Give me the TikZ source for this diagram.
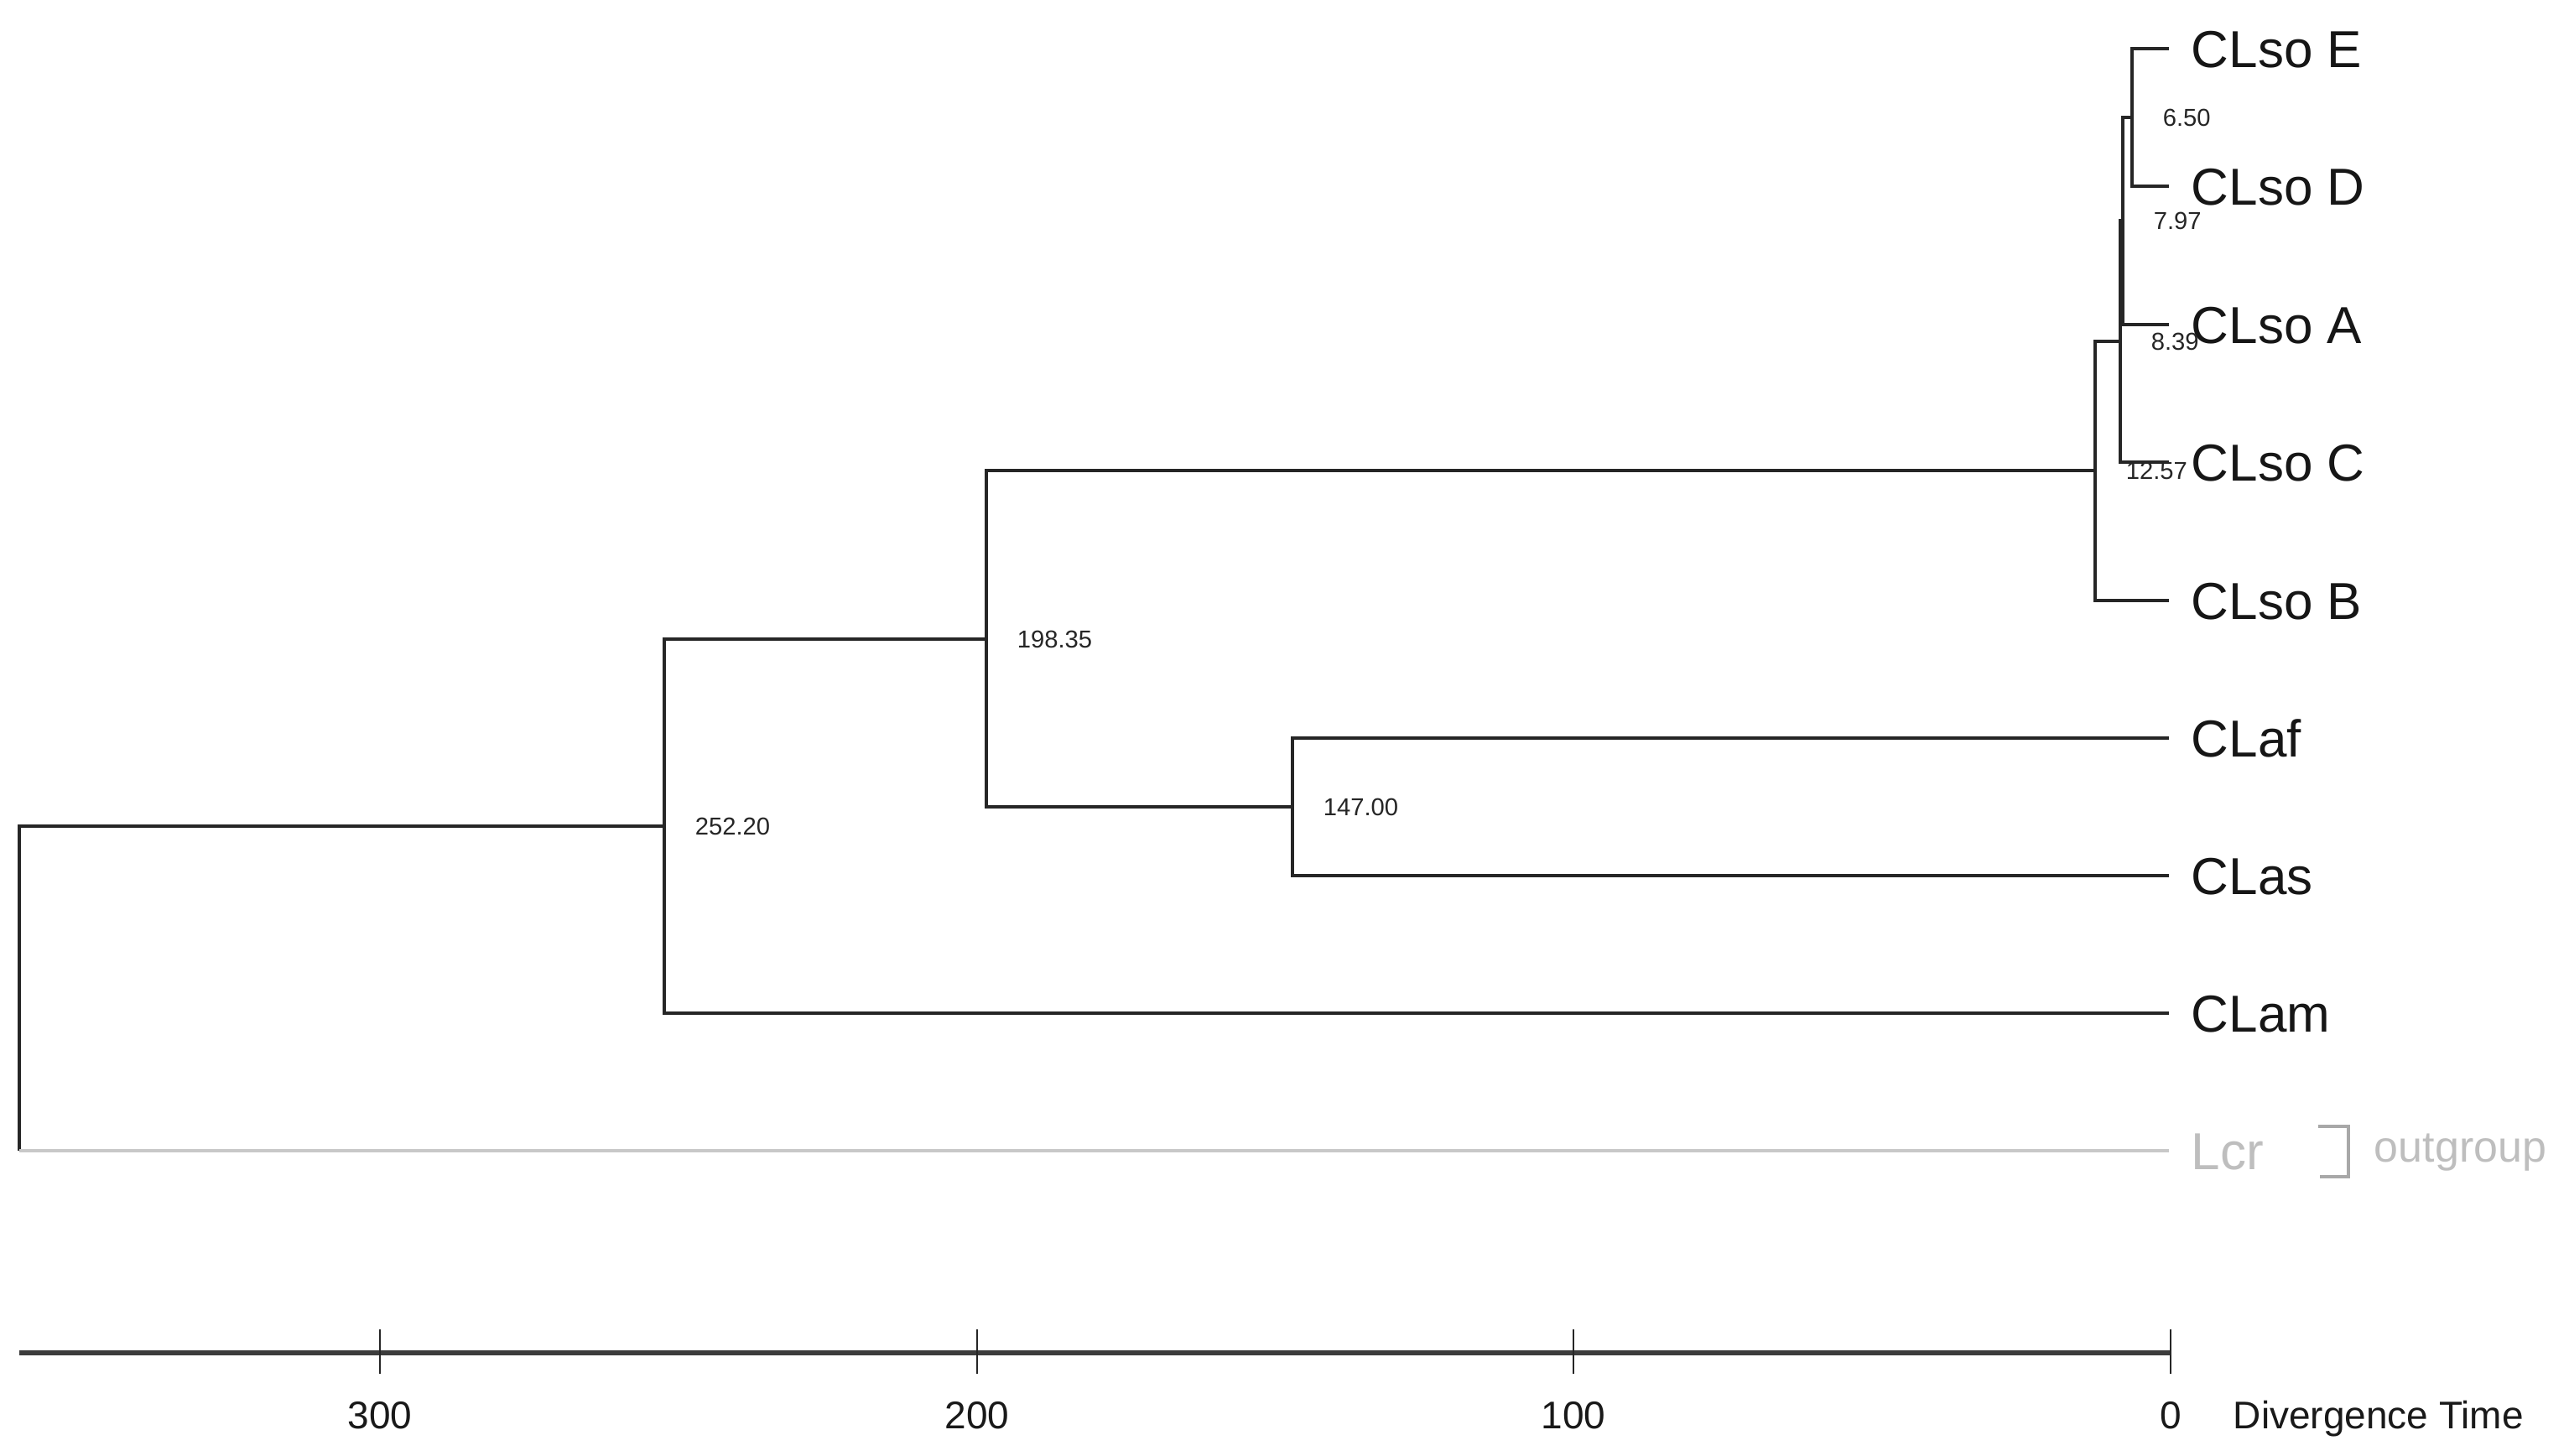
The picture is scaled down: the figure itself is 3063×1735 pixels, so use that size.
\documentclass[tikz,border=0pt]{standalone}
\usepackage{fontspec}
\setmainfont{Liberation Sans}
\definecolor{treeline}{HTML}{262626}
\definecolor{leaftext}{HTML}{161616}
\definecolor{outline}{HTML}{C8C8C8}
\definecolor{outtext}{HTML}{BEBEBE}
\definecolor{brackcol}{HTML}{A8A8A8}
\definecolor{axiscol}{HTML}{3C3C3C}
\begin{document}
\begin{tikzpicture}[x=0.25pt,y=-0.25pt,
  branch/.style={draw=treeline,line width=1pt},
  outbranch/.style={draw=outline,line width=1pt},
  leaflabel/.style={anchor=west,inner sep=0pt,text height=11.1pt,text depth=0pt,
    font=\fontsize{15.5}{18}\selectfont,text=leaftext},
  outleaf/.style={leaflabel,text=outtext},
  nodelabel/.style={anchor=west,inner sep=0pt,text height=5.2pt,text depth=0pt,
    font=\fontsize{7.3}{9}\selectfont,text=black!85},
  axislabel/.style={inner sep=0pt,text height=8.2pt,text depth=0pt,
    font=\fontsize{11.5}{14}\selectfont,text=black!90},
  axisline/.style={draw=axiscol,line width=1.4pt},
  tickline/.style={draw=black!85,line width=0.55pt},
  bracketline/.style={draw=brackcol,line width=0.8pt}]
\useasboundingbox (0,0) rectangle (3063,1735);
% leaf tips
\coordinate (E) at (2586,58);
\coordinate (D) at (2586,222);
\coordinate (A) at (2586,387);
\coordinate (C) at (2586,551);
\coordinate (B) at (2586,716);
\coordinate (af) at (2586,880);
\coordinate (as) at (2586,1044);
\coordinate (am) at (2586,1208);
\coordinate (Lcr) at (2586,1372);
% internal nodes
\coordinate (n650) at (2542,140);
\coordinate (n797) at (2531,263);
\coordinate (n839) at (2528,407);
\coordinate (n1257) at (2498,561);
\coordinate (n147) at (1541,962);
\coordinate (n19835) at (1176,762);
\coordinate (n2522) at (792,985);
\coordinate (root) at (23,1178);
% branches
\draw[branch] (n650) |- (E);
\draw[branch] (n650) |- (D);
\draw[branch] (n797) |- (n650);
\draw[branch] (n797) |- (A);
\draw[branch] (n839) |- (n797);
\draw[branch] (n839) |- (C);
\draw[branch] (n1257) |- (n839);
\draw[branch] (n1257) |- (B);
\draw[branch] (n147) |- (af);
\draw[branch] (n147) |- (as);
\draw[branch] (n19835) |- (n1257);
\draw[branch] (n19835) |- (n147);
\draw[branch] (n2522) |- (n19835);
\draw[branch] (n2522) |- (am);
\draw[branch] (root) |- (n2522);
\coordinate (rootlow) at (root |- Lcr);
\draw[branch] (root) -- (rootlow);
\draw[outbranch] (rootlow) -- (Lcr);
% leaf labels
\node[leaflabel] (lE) at ([xshift=6.5pt]E) {CLso E};
\node[leaflabel] (lD) at ([xshift=6.5pt]D) {CLso D};
\node[leaflabel] (lA) at ([xshift=6.5pt]A) {CLso A};
\node[leaflabel] (lC) at ([xshift=6.5pt]C) {CLso C};
\node[leaflabel] (lB) at ([xshift=6.5pt]B) {CLso B};
\node[leaflabel] (laf) at ([xshift=6.5pt]af) {CLaf};
\node[leaflabel] (las) at ([xshift=6.5pt]as) {CLas};
\node[leaflabel] (lam) at ([xshift=6.5pt]am) {CLam};
\node[outleaf] (lLcr) at ([xshift=6.5pt]Lcr) {Lcr};
% outgroup bracket
\coordinate (bt) at (2764,1343);
\coordinate (bb) at (2766,1403);
\draw[bracketline] (bt) -- (2800,1343) -- (2800,1403) -- (bb);
\node[anchor=west,inner sep=0pt,text height=7pt,text depth=0pt,
  font=\fontsize{13}{15}\selectfont,text=outtext] (og) at (2830,1371) {outgroup};
% node labels
\node[nodelabel] (l650) at ([xshift=9pt]n650) {6.50};
\node[nodelabel] (l797) at ([xshift=9pt]n797) {7.97};
\node[nodelabel] (l839) at ([xshift=9pt]n839) {8.39};
\node[nodelabel] (l1257) at ([xshift=9pt]n1257) {12.57};
\node[nodelabel] (l147) at ([xshift=9pt]n147) {147.00};
\node[nodelabel] (l19835) at ([xshift=9pt]n19835) {198.35};
\node[nodelabel] (l2522) at ([xshift=9pt]n2522) {252.20};
% axis
\coordinate (aL) at (23,1613);
\coordinate (a0) at (2588,1613);
\coordinate (a100) at (1876,1613);
\coordinate (a200) at (1165,1613);
\coordinate (a300) at (453,1613);
\draw[axisline] (aL) -- (a0);
\foreach \t in {a0,a100,a200,a300}{
  \draw[tickline] ([yshift=7pt]\t) -- ([yshift=-6.25pt]\t);
}
\node[axislabel] (t0) at (2588,1687) {0};
\node[axislabel] (t100) at (1876,1687) {100};
\node[axislabel] (t200) at (1165,1687) {200};
\node[axislabel] (t300) at (453,1687) {300};
\node[axislabel,anchor=west] (dt) at (2662,1687) {Divergence Time};
\end{tikzpicture}
\end{document}
